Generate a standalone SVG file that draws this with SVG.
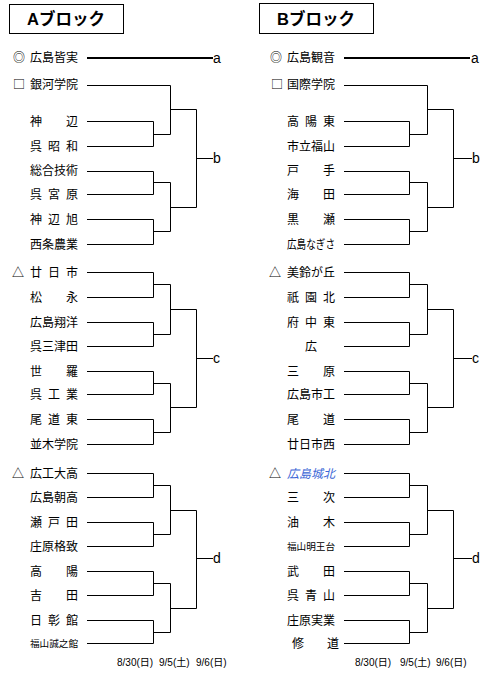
<svg xmlns="http://www.w3.org/2000/svg" width="490" height="677" viewBox="0 0 490 677">
<style>
.bg{fill:#fff}
.hdr{fill:none;stroke:#000;stroke-width:1}
.ht{font-family:"Liberation Sans","Noto Sans CJK JP",sans-serif;font-size:16.5px;font-weight:bold;fill:#000}
.t{font-family:"Noto Sans CJK JP",sans-serif;font-size:12px;fill:#000}
.s{font-family:"Noto Sans CJK JP",sans-serif;font-size:9.6px;fill:#000}
.sym{font-family:"Noto Sans CJK JP",sans-serif;font-size:12px;fill:#000}
.blue{fill:#3a66d6;font-style:italic}
.lab{font-family:"Liberation Sans",sans-serif;font-size:14px;fill:#000}
.dt{font-family:"Liberation Sans","Noto Sans CJK JP",sans-serif;font-size:10px;fill:#000}
.ln{fill:none;stroke:#000;stroke-width:1}
.thick{fill:none;stroke:#000;stroke-width:2}
</style>
<rect class="bg" x="0" y="0" width="490" height="677"/>

<g id="headerA"><rect class="hdr" x="9.5" y="4.5" width="114" height="29"/><text class="ht" x="27" y="25">Aブロック</text></g>
<g id="headerB"><rect class="hdr" x="259.5" y="3.5" width="114" height="30"/><text class="ht" x="277" y="25">Bブロック</text></g>

<g id="connectors">
<!-- Left block -->
<path class="thick" d="M87 58 H213"/>
<path class="ln" d="M87 85.5 H170.5 V134.5 H153.5 M87 121.5 H153.5 V146.5 H87 M170.5 109.5 H196.5"/>
<path class="ln" d="M87 171.5 H153.5 V194.5 H87 M87 219.5 H153.5 V244.5 H87 M153.5 182.5 H170.5 V231.5 H153.5 M170.5 207.5 H196.5"/>
<path class="ln" d="M196.5 109.5 V207.5 M196.5 158.5 H213"/>

<path class="ln" d="M87 272.5 H153.5 V297.5 H87 M87 322.5 H153.5 V346.5 H87 M153.5 284.5 H170.5 V334.5 H153.5 M170.5 309.5 H196.5"/>
<path class="ln" d="M87 371.5 H153.5 V394.5 H87 M87 419.5 H153.5 V444.5 H87 M153.5 383.5 H170.5 V432.5 H153.5 M170.5 407.5 H196.5"/>
<path class="ln" d="M196.5 309.5 V407.5 M196.5 358.5 H213"/>

<path class="ln" d="M87 473.5 H153.5 V497.5 H87 M87 522.5 H153.5 V546.5 H87 M153.5 485.5 H170.5 V534.5 H153.5 M170.5 510.5 H196.5"/>
<path class="ln" d="M87 571.5 H153.5 V595.5 H87 M87 620.5 H153.5 V643.5 H87 M153.5 583.5 H170.5 V632.5 H153.5 M170.5 608.5 H196.5"/>
<path class="ln" d="M196.5 510.5 V608.5 M196.5 558.5 H213"/>

<!-- Right block -->
<path class="thick" d="M344 58 H470"/>
<path class="ln" d="M344 85.5 H427.5 V134.5 H409.5 M344 121.5 H409.5 V146.5 H344 M427.5 109.5 H453.5"/>
<path class="ln" d="M344 171.5 H409.5 V194.5 H344 M344 219.5 H409.5 V244.5 H344 M409.5 182.5 H427.5 V231.5 H409.5 M427.5 207.5 H453.5"/>
<path class="ln" d="M453.5 109.5 V207.5 M453.5 158.5 H472"/>

<path class="ln" d="M344 272.5 H409.5 V297.5 H344 M344 322.5 H409.5 V346.5 H344 M409.5 284.5 H427.5 V334.5 H409.5 M427.5 309.5 H453.5"/>
<path class="ln" d="M344 371.5 H409.5 V394.5 H344 M344 419.5 H409.5 V444.5 H344 M409.5 383.5 H427.5 V432.5 H409.5 M427.5 407.5 H453.5"/>
<path class="ln" d="M453.5 309.5 V407.5 M453.5 358.5 H472"/>

<path class="ln" d="M344 473.5 H409.5 V497.5 H344 M344 522.5 H409.5 V546.5 H344 M409.5 485.5 H427.5 V534.5 H409.5 M427.5 510.5 H453.5"/>
<path class="ln" d="M344 571.5 H409.5 V595.5 H344 M344 620.5 H409.5 V643.5 H344 M409.5 583.5 H427.5 V632.5 H409.5 M427.5 608.5 H453.5"/>
<path class="ln" d="M453.5 510.5 V608.5 M453.5 558.5 H472"/>
</g>

<g id="labels">
<text class="lab" x="213" y="63">a</text>
<text class="lab" x="213" y="163">b</text>
<text class="lab" x="213" y="363">c</text>
<text class="lab" x="213" y="563">d</text>
<text class="lab" x="471" y="63">a</text>
<text class="lab" x="472" y="163">b</text>
<text class="lab" x="472" y="363">c</text>
<text class="lab" x="472" y="563">d</text>
</g>

<!-- Left block teams -->
<g id="A-hiroshimaminami"><text class="sym" x="13" y="62">◎</text><text class="t" x="30" y="62">広島皆実</text></g>
<g id="A-gingagakuin"><text class="sym" x="13" y="89">□</text><text class="t" x="30" y="89">銀河学院</text></g>
<g id="A-kannabe"><text class="t" x="30 66" y="126">神辺</text></g>
<g id="A-kureshowa"><text class="t" x="30 48 66" y="151">呉昭和</text></g>
<g id="A-sogogijutsu"><text class="t" x="30" y="175">総合技術</text></g>
<g id="A-kuremiyahara"><text class="t" x="30 48 66" y="199">呉宮原</text></g>
<g id="A-kannabeasahi"><text class="t" x="30 48 66" y="224">神辺旭</text></g>
<g id="A-saijonogyo"><text class="t" x="30" y="249">西条農業</text></g>

<g id="A-hatsukaichi"><text class="sym" x="12" y="277">△</text><text class="t" x="30 48 66" y="277">廿日市</text></g>
<g id="A-matsunaga"><text class="t" x="30 66" y="302">松永</text></g>
<g id="A-shoyo"><text class="t" x="30" y="327">広島翔洋</text></g>
<g id="A-kuremitsuta"><text class="t" x="30" y="351">呉三津田</text></g>
<g id="A-sera"><text class="t" x="30 66" y="376">世羅</text></g>
<g id="A-kurekogyo"><text class="t" x="30 48 66" y="399">呉工業</text></g>
<g id="A-onomichihigashi"><text class="t" x="30 48 66" y="424">尾道東</text></g>
<g id="A-namiki"><text class="t" x="30" y="449">並木学院</text></g>

<g id="A-kokodai"><text class="sym" x="12" y="478">△</text><text class="t" x="30" y="478">広工大高</text></g>
<g id="A-chosen"><text class="t" x="30" y="502">広島朝高</text></g>
<g id="A-setoda"><text class="t" x="30 48 66" y="527">瀬戸田</text></g>
<g id="A-shobarakakuchi"><text class="t" x="30" y="551">庄原格致</text></g>
<g id="A-koyo"><text class="t" x="30 66" y="576">高陽</text></g>
<g id="A-yoshida"><text class="t" x="30 66" y="600">吉田</text></g>
<g id="A-nisshokan"><text class="t" x="30 48 66" y="625">日彰館</text></g>
<g id="A-seishikan"><text class="s" x="30" y="647" textLength="48" lengthAdjust="spacingAndGlyphs">福山誠之館</text></g>

<!-- Right block teams -->
<g id="B-kannon"><text class="sym" x="270" y="62">◎</text><text class="t" x="287" y="62">広島観音</text></g>
<g id="B-kokusai"><text class="sym" x="271" y="89">□</text><text class="t" x="287" y="89">国際学院</text></g>
<g id="B-koyohigashi"><text class="t" x="287 305 323" y="126">高陽東</text></g>
<g id="B-shiritsufukuyama"><text class="t" x="287" y="151">市立福山</text></g>
<g id="B-tote"><text class="t" x="287 323" y="175">戸手</text></g>
<g id="B-kaita"><text class="t" x="287 323" y="199">海田</text></g>
<g id="B-kurose"><text class="t" x="287 323" y="224">黒瀬</text></g>
<g id="B-nagisa"><text class="t" x="287" y="249" font-size="11.5" textLength="48" lengthAdjust="spacingAndGlyphs">広島なぎさ</text></g>

<g id="B-misuzugaoka"><text class="sym" x="269" y="277">△</text><text class="t" x="287" y="277">美鈴が丘</text></g>
<g id="B-gionkita"><text class="t" x="287 305 323" y="302">祇園北</text></g>
<g id="B-fuchuhigashi"><text class="t" x="287 305 323" y="327">府中東</text></g>
<g id="B-hiro"><text class="t" x="305" y="351">広</text></g>
<g id="B-mihara"><text class="t" x="287 323" y="376">三原</text></g>
<g id="B-shiko"><text class="t" x="287" y="399">広島市工</text></g>
<g id="B-onomichi"><text class="t" x="287 323" y="424">尾道</text></g>
<g id="B-hatsukaichinishi"><text class="t" x="287" y="449">廿日市西</text></g>

<g id="B-johoku"><text class="sym" x="269" y="478">△</text><text class="t blue" x="287" y="478">広島城北</text></g>
<g id="B-miyoshi"><text class="t" x="287 323" y="502">三次</text></g>
<g id="B-yuki"><text class="t" x="287 323" y="527">油木</text></g>
<g id="B-meiodai"><text class="s" x="287" y="550" textLength="48" lengthAdjust="spacingAndGlyphs">福山明王台</text></g>
<g id="B-takeda"><text class="t" x="287 323" y="576">武田</text></g>
<g id="B-kureaoyama"><text class="t" x="287 305 323" y="600">呉青山</text></g>
<g id="B-shobarajitsugyo"><text class="t" x="287" y="625">庄原実業</text></g>
<g id="B-shudo"><text class="t" x="292 327" y="648">修道</text></g>

<g id="dates">
<text class="dt" x="117" y="666">8/30(日)</text>
<text class="dt" x="159" y="666">9/5(土)</text>
<text class="dt" x="196" y="666">9/6(日)</text>
<text class="dt" x="355" y="666">8/30(日)</text>
<text class="dt" x="400" y="666">9/5(土)</text>
<text class="dt" x="436" y="666">9/6(日)</text>
</g>
</svg>
